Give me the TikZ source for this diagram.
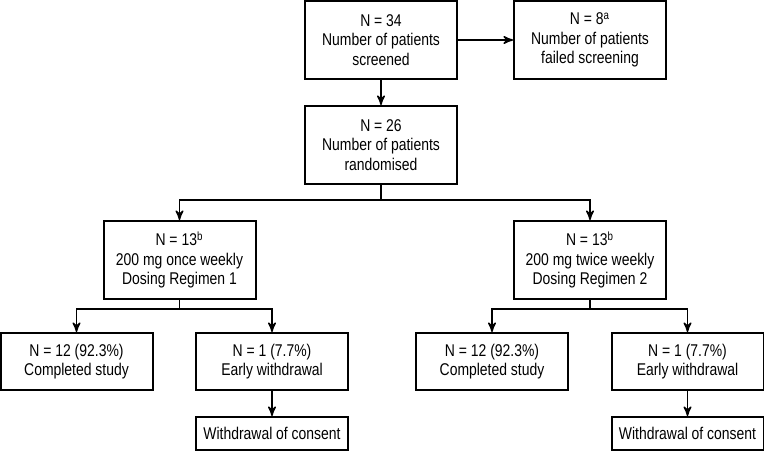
\documentclass[tikz,border=0pt]{standalone}
\usepackage{fontspec}
\setmainfont{Liberation Sans}[FakeStretch=0.82]
\usepackage{tikz}
\usetikzlibrary{arrows,positioning}

\begin{document}
\begin{tikzpicture}[->,>=stealth',x=0.5pt,y=-0.5pt,line width=0.75pt]
	\tikzstyle{every node}=[font=\fontsize{8.5}{9.75}\selectfont]
	\tikzstyle{bigbox}=[draw,line width=1pt,align=center,minimum width=76pt,minimum height=39pt,inner sep=0pt]
	\tikzstyle{midbox}=[bigbox,minimum height=28.5pt]
	\tikzstyle{smallbox}=[bigbox,minimum height=16.5pt]

	\useasboundingbox (0,0) rectangle (764,451);

	\node[bigbox]   (screen) at (381,40)     {N = 34\\Number of patients\\screened};
	\node[bigbox]   (fail)   at (590,40)     {N = 8\textsuperscript{a}\\Number of patients\\failed screening};
	\node[bigbox]   (rand)   at (381,145)    {N = 26\\Number of patients\\randomised};
	\node[bigbox]   (reg1)   at (179.5,260)  {N = 13\textsuperscript{b}\\200 mg once weekly\\Dosing Regimen 1};
	\node[bigbox]   (reg2)   at (590,260)    {N = 13\textsuperscript{b}\\200 mg twice weekly\\Dosing Regimen 2};
	\node[midbox]   (comp1)  at (76.5,361.5) {N = 12 (92.3\%)\\Completed study};
	\node[midbox]   (early1) at (272,361.5)  {N = 1 (7.7\%)\\Early withdrawal};
	\node[smallbox] (wd1)    at (272,433.5)  {Withdrawal of consent};
	\node[midbox]   (comp2)  at (492,361.5)  {N = 12 (92.3\%)\\Completed study};
	\node[midbox]   (early2) at (687.5,361.5){N = 1 (7.7\%)\\Early withdrawal};
	\node[smallbox] (wd2)    at (687.5,433.5){Withdrawal of consent};

	\coordinate (split0) at (381,200);
	\coordinate (split1) at (179.5,309);
	\coordinate (split2) at (590,309);

	\draw (screen) -- (fail);
	\draw (screen) -- (rand);
	\draw[-] (rand) -- (split0);
	\draw (split0) -| (reg1);
	\draw (split0) -| (reg2);
	\draw[-] (reg1) -- (split1);
	\draw (split1) -| (comp1);
	\draw (split1) -| (early1);
	\draw (early1) -- (wd1);
	\draw[-] (reg2) -- (split2);
	\draw (split2) -| (comp2);
	\draw (split2) -| (early2);
	\draw (early2) -- (wd2);
\end{tikzpicture}
\end{document}
